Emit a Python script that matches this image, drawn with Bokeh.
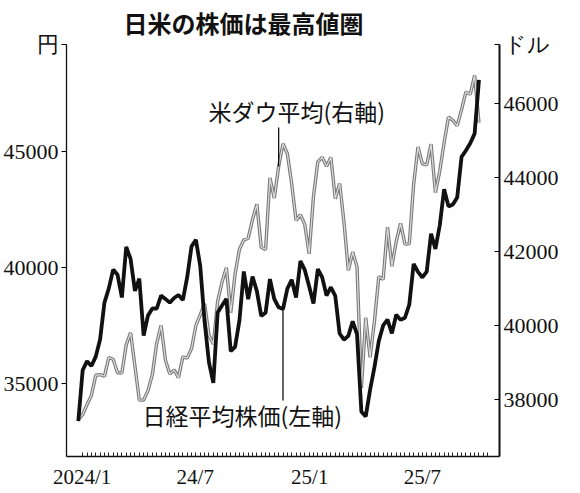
import pandas as pd
from bokeh.plotting import figure
from bokeh.models import Range1d, LinearAxis, FixedTicker, Label, ColumnDataSource
from bokeh.embed import file_html
from bokeh.resources import INLINE

# ---- data (weekly closes) ----
week_start = "2024-01-05"
n_weeks = 93
nikkei = [
    33377, 35577, 35963, 35751, 36158, 36897, 38487, 39098, 39910, 39688,
    38707, 40888, 40369, 38992, 39523, 37068, 37934, 38236, 38229, 38787,
    38646, 38487, 38683, 38814, 38596, 39583, 40912, 41190, 40063, 37667,
    35909, 35025, 38062, 38364, 38647, 36391, 36581, 37723, 39829, 38635,
    39605, 38981, 37913, 38053, 39500, 38642, 38283, 38208, 39091, 39470,
    38701, 40281, 39894, 39190, 38451, 39931, 39572, 38787, 39149, 38776,
    37155, 36887, 37053, 37677, 37120, 33780, 33585, 34730, 35705, 36830,
    37503, 37753, 37160, 37965, 37741, 37834, 38403, 40150, 39811, 39570,
    39819, 41456, 40800, 41820, 43378, 42633, 42718, 43018, 44768, 45045,
    45355, 45769, 48088,
]
dow = [
    37466, 37593, 37863, 38109, 38654, 38671, 38628, 39131, 39087, 38723,
    38715, 39476, 39807, 38904, 37983, 37986, 38240, 38676, 39513, 40004,
    39070, 38686, 38799, 38589, 39150, 39119, 39376, 40001, 40288, 40590,
    39737, 39497, 40660, 41175, 41563, 40345, 41394, 42063, 42313, 42352,
    42864, 43276, 42114, 42052, 43989, 43445, 44297, 44911, 44643, 43828,
    42840, 42992, 42732, 41938, 43488, 44424, 44545, 44303, 44546, 43428,
    43841, 42802, 41488, 41985, 41584, 38315, 40213, 39142, 40114, 41317,
    41249, 42655, 41603, 42270, 42763, 42198, 42207, 43819, 44829, 44372,
    44342, 44902, 43589, 44176, 44946, 45632, 45545, 45401, 45834, 46315,
    46247, 46758, 45480,
]
dates = pd.date_range(week_start, periods=n_weeks, freq="7D")

left_ticks = [35000, 40000, 45000]
right_ticks = [38000, 40000, 42000, 44000, 46000]
left_unit = "円"
right_unit = "ドル"
x_tick_months = ["2024-01-01", "2024-07-01", "2025-01-01", "2025-07-01"]
x_tick_labels = ["2024/1", "24/7", "25/1", "25/7"]

title_text = "日米の株価は最高値圏"
dow_label = "米ダウ平均(右軸)"
nikkei_label = "日経平均株価(左軸)"
dow_pointer_date = "2024-11-22"
nikkei_pointer_date = "2024-11-29"

# ---- figure ----
def ms(d):
    return pd.Timestamp(d).value // 10**6

left_lo, left_hi = 31853, 49612
right_lo, right_hi = 36459, 47595

src = ColumnDataSource(dict(x=dates, nk=nikkei, dw=dow))

p = figure(
    frame_width=433, frame_height=412,
    min_border_left=66, min_border_right=65, min_border_top=44, min_border_bottom=29,
    x_axis_type="datetime",
    x_range=Range1d(ms("2023-12-17"), ms("2025-11-12")),
    y_range=Range1d(left_lo, left_hi),
    output_backend="svg", toolbar_location=None,
)
p.extra_y_ranges = {"right": Range1d(right_lo, right_hi)}
p.outline_line_color = None
p.xgrid.visible = False
p.ygrid.visible = False
p.background_fill_color = "white"
p.border_fill_color = "white"

jp = "Noto Sans CJK JP"
p.title.text = title_text
p.title.text_font = "Liberation Sans, Noto Sans CJK JP"
p.title.text_font_size = "24px"
p.title.text_font_style = "bold"
p.title.text_color = "#111"
p.title.align = "left"
p.title.offset = 57
p.title.standoff = 14

tick_font = "Liberation Sans Narrow"

# x axis
xa = p.xaxis[0]
off = pd.Timedelta(days=10)
major = [ms(pd.Timestamp(d) + off) for d in x_tick_months]
minor = [ms(d) for d in pd.date_range("2024-01-12", "2025-10-24", freq="7D")]
xa.ticker = FixedTicker(ticks=major, minor_ticks=minor)
xa.major_label_overrides = {int(t): lab for t, lab in zip(major, x_tick_labels)}
xa.major_tick_line_color = None
xa.minor_tick_in = 4
xa.minor_tick_out = 0
xa.minor_tick_line_color = "#222"
xa.minor_tick_line_width = 1
xa.axis_line_width = 1.6
xa.axis_line_color = "#111"
xa.major_label_text_font = tick_font
xa.major_label_text_font_size = "21px"
xa.major_label_text_color = "#111"
xa.major_label_standoff = 2

# left axis (unit label placed at the axis top)
ya = p.yaxis[0]
left_unit_pos = left_hi - 1
ya.ticker = FixedTicker(ticks=left_ticks + [left_unit_pos])
ya.major_label_overrides = {left_unit_pos: left_unit}
ya.major_tick_out = 5
ya.major_tick_in = 0
ya.minor_tick_line_color = None
ya.axis_line_width = 1.3
ya.axis_line_color = "#111"
ya.major_label_text_font = tick_font
ya.major_label_text_font_size = "22px"
ya.major_label_text_color = "#111"
ya.major_label_standoff = 3

# right axis
right_unit_pos = right_hi - 1
ra = LinearAxis(y_range_name="right", ticker=FixedTicker(ticks=right_ticks + [right_unit_pos]))
ra.major_label_overrides = {right_unit_pos: right_unit}
ra.major_tick_in = 5
ra.major_tick_out = 0
ra.minor_tick_line_color = None
ra.axis_line_width = 2
ra.axis_line_color = "#111"
ra.major_label_text_font = tick_font
ra.major_label_text_font_size = "22px"
ra.major_label_text_color = "#111"
ra.major_label_standoff = 4
p.add_layout(ra, "right")

# lines
p.line("x", "dw", source=src, y_range_name="right", line_color="#7a7a7a", line_width=3.4)
p.line("x", "dw", source=src, y_range_name="right", line_color="#dcdcdc", line_width=1.2)
p.line("x", "nk", source=src, line_color="#111111", line_width=3.8)

# leader lines
dw_i = list(dates).index(pd.Timestamp(dow_pointer_date))
nk_i = list(dates).index(pd.Timestamp(nikkei_pointer_date))
p.segment(x0=[dates[dw_i]], y0=[dow[dw_i]], x1=[dates[dw_i]], y1=[45351],
          y_range_name="right", line_color="#111", line_width=1.3)
p.segment(x0=[dates[nk_i]], y0=[nikkei[nk_i]], x1=[dates[nk_i]], y1=[34267],
          line_color="#111", line_width=1.3)

def add_label(text, sx, sy, size):
    p.add_layout(Label(x=sx, y=sy, x_units="screen", y_units="screen", text=text,
                       text_font=jp, text_font_size=size, text_align="left",
                       text_baseline="middle", text_color="#111"))

add_label(dow_label, 142, 346, "23px")
add_label(nikkei_label, 76, 42, "23px")

open("out.html", "w").write(file_html(p, INLINE))
